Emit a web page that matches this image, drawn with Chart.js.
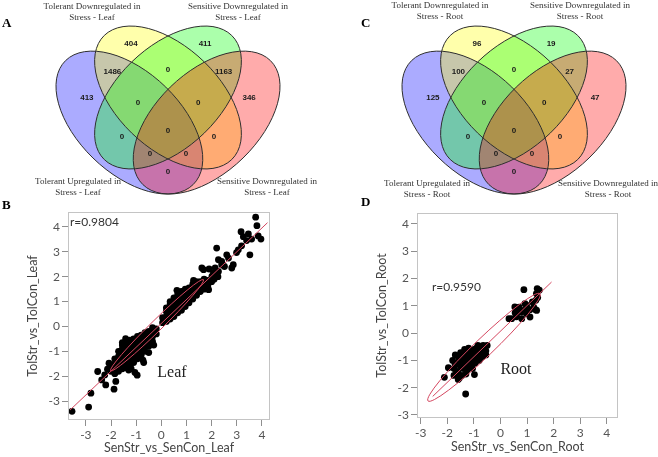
<!DOCTYPE html>
<html>
<head>
<meta charset="utf-8">
<script src="https://cdn.jsdelivr.net/npm/chart.js@4.4.1/dist/chart.umd.min.js"></script>
<style>
  body { margin: 0; width: 658px; height: 457px; background: #fff; position: relative; overflow: hidden; }
  canvas { position: absolute; }
  .set  { position: absolute; font: 9px/10.5px "Liberation Serif", "Times New Roman", serif; color: #333;
          text-align: center; white-space: nowrap; transform: translateX(-50%); }
  .panel { position: absolute; font: bold 13px/1 "Liberation Serif", "Times New Roman", serif; color: #000; }
  .r    { position: absolute; font: 12px/14px Lato, "Liberation Sans", sans-serif; color: #333; }
  .tis  { position: absolute; font: 16px/18px "Liberation Serif", "Times New Roman", serif; color: #222; transform: translateX(-50%); }
</style>
</head>
<body>
<canvas id="venn-leaf"    width="312" height="200" style="left:0;top:0"></canvas>
<canvas id="venn-root"    width="312" height="200" style="left:346px;top:0"></canvas>
<canvas id="scatter-leaf" width="290" height="257" style="left:0;top:200px"></canvas>
<canvas id="scatter-root" width="329" height="257" style="left:329px;top:200px"></canvas>

<div class="panel" style="left:2px;top:16px">A</div>
<div class="panel" style="left:2px;top:198px">B</div>
<div class="panel" style="left:361px;top:16px">C</div>
<div class="panel" style="left:361px;top:195px">D</div>

<div class="set" style="left:92px;top:1px">Tolerant Downregulated in<br>Stress - Leaf</div>
<div class="set" style="left:238px;top:1px">Sensitive Downregulated in<br>Stress - Leaf</div>
<div class="set" style="left:78px;top:176px">Tolerant Upregulated in<br>Stress - Leaf</div>
<div class="set" style="left:267px;top:176px">Sensitive Downregulated in<br>Stress - Leaf</div>

<div class="set" style="left:440px;top:0">Tolerant Downregulated in<br>Stress - Root</div>
<div class="set" style="left:580px;top:0">Sensitive Downregulated in<br>Stress - Root</div>
<div class="set" style="left:427px;top:178px">Tolerant Upregulated in<br>Stress - Root</div>
<div class="set" style="left:608px;top:178px">Sensitive Downregulated in<br>Stress - Root</div>

<div class="r" style="left:70px;top:215px">r=0.9804</div>
<div class="tis" style="left:172px;top:363px">Leaf</div>
<div class="r" style="left:432px;top:280px">r=0.9590</div>
<div class="tis" style="left:516px;top:360px">Root</div>

<script>
// ── VENN DATA ─────────────────────────────────────────────
// region order: T-down only, S-down only, T-down+T-up, T-down+S-down, S-down+S-down(R),
// T-up only, T-up+T-down+S-down, T-down+S-down+S-down(R), S-down(R) only, T-up+S-down,
// all four, T-down+S-down(R), T-up+S-down+S-down(R), T-up+T-down+S-down(R), T-up+S-down(R)
const leafCounts = [404, 411, 1486, 0, 1163, 413, 0, 0, 346, 0, 0, 0, 0, 0, 0];
const rootCounts = [96, 19, 100, 0, 27, 125, 0, 0, 47, 0, 0, 0, 0, 0, 0];

// label spots inside the unit square of the four-ellipse layout
const regionX = [0.356, 0.644, 0.284, 0.5, 0.716, 0.185, 0.383, 0.617, 0.815, 0.321, 0.5, 0.679, 0.43, 0.57, 0.5];
const regionY = [0.783, 0.783, 0.672, 0.68, 0.672, 0.568, 0.548, 0.548, 0.568, 0.412, 0.436, 0.412, 0.345, 0.345, 0.273];

// blue (T-up), yellow (T-down), green (S-down), pink (S-down)
const setCx    = [0.35, 0.5, 0.5, 0.65];
const setCy    = [0.47, 0.57, 0.57, 0.47];
const setAngle = [-45, -45, 45, 45];
const setA = 0.35, setB = 0.2;
const setColours = ['rgba(0,0,255,0.33)', 'rgba(255,255,0,0.33)', 'rgba(0,255,0,0.33)', 'rgba(255,0,0,0.33)'];

// ── SCATTER DATA ──────────────────────────────────────────
const axisTicks = [-3, -2, -1, 0, 1, 2, 3, 4];

// [SenStr_vs_SenCon_Leaf, TolStr_vs_TolCon_Leaf]
const leafPoints = [
  [-2.0,-1.8],[-2.0,-1.6],
  [-1.85,-1.9],[-1.85,-1.7],[-1.85,-1.5],[-1.85,-1.3],
  [-1.7,-1.8],[-1.7,-1.6],[-1.7,-1.4],[-1.7,-1.2],[-1.7,-1.0],
  [-1.55,-1.7],[-1.55,-1.5],[-1.55,-1.3],[-1.55,-1.1],[-1.55,-0.9],[-1.55,-0.75],
  [-1.4,-1.65],[-1.4,-1.45],[-1.4,-1.25],[-1.4,-1.05],[-1.4,-0.85],[-1.4,-0.65],
  [-1.25,-1.55],[-1.25,-1.35],[-1.25,-1.15],[-1.25,-0.95],[-1.25,-0.75],[-1.25,-0.55],
  [-1.1,-1.45],[-1.1,-1.25],[-1.1,-1.05],[-1.1,-0.85],[-1.1,-0.65],[-1.1,-0.5],
  [-0.95,-1.3],[-0.95,-1.1],[-0.95,-0.9],[-0.95,-0.7],[-0.95,-0.5],[-0.95,-0.4],
  [-0.8,-1.15],[-0.8,-0.95],[-0.8,-0.75],[-0.8,-0.55],[-0.8,-0.35],
  [-0.65,-1.0],[-0.65,-0.8],[-0.65,-0.6],[-0.65,-0.4],[-0.65,-0.25],
  [-0.5,-0.8],[-0.5,-0.6],[-0.5,-0.4],[-0.5,-0.2],
  [-0.35,-0.6],[-0.35,-0.4],[-0.35,-0.2],[-0.35,-0.05],
  [-0.2,-0.3],[-0.2,-0.1],
  [-2.53,-1.81],[-2.37,-2.15],[-2.21,-2.35],[-1.88,-2.52],[-1.81,-2.21],[-2.08,-1.48],
  [-1.48,-1.65],[-1.05,-1.85],[-0.96,-1.96],[-0.73,-1.35],[-1.42,-0.49],[-1.55,-0.65],
  [-2.80,-2.68],[-2.89,-3.24],[-3.55,-3.41],[-2.14,-1.72],[-0.7,-1.45],[-2.25,-1.95],
  [-1.3,-1.75],[-1.2,-1.7],[-0.5,-1.05],[-0.3,-0.75],
  [0.05,0.15],[0.05,0.35],
  [0.2,0.2],[0.2,0.4],[0.2,0.6],[0.2,0.75],
  [0.35,0.3],[0.35,0.5],[0.35,0.7],[0.35,0.9],[0.35,1.0],
  [0.5,0.4],[0.5,0.6],[0.5,0.8],[0.5,1.0],[0.5,1.15],
  [0.65,0.55],[0.65,0.75],[0.65,0.95],[0.65,1.15],[0.65,1.3],
  [0.8,0.65],[0.8,0.85],[0.8,1.05],[0.8,1.25],[0.8,1.4],
  [0.95,0.8],[0.95,1.0],[0.95,1.2],[0.95,1.4],[0.95,1.5],
  [1.1,0.95],[1.1,1.15],[1.1,1.35],[1.1,1.55],
  [1.25,1.1],[1.25,1.3],[1.25,1.5],[1.25,1.7],
  [1.4,1.25],[1.4,1.45],[1.4,1.65],[1.4,1.8],
  [1.55,1.4],[1.55,1.6],[1.55,1.8],
  [1.7,1.5],[1.7,1.7],[1.7,1.9],
  [1.85,1.65],[1.85,1.85],[2.0,1.8],
  [0.62,1.45],[0.82,1.41],[1.28,1.85],[1.61,2.35],[1.68,2.28],[1.9,2.31],[2.01,2.01],
  [1.88,1.48],[1.74,1.55],[2.1,1.9],[2.25,2.0],[2.07,2.15],[2.14,2.35],[2.27,2.21],
  [2.27,2.68],[2.40,2.61],[2.40,2.48],[2.51,2.41],[2.60,2.88],[2.67,2.75],[2.80,2.35],
  [2.86,2.48],[2.20,3.15],[2.99,2.97],[3.06,3.08],[3.19,3.24],[3.17,3.81],[3.26,3.61],
  [3.39,3.45],[3.46,3.72],[3.52,2.88],[3.59,3.51],[3.75,4.39],[3.80,4.05],[3.85,3.64],
  [3.96,3.51]
];
const leafFitX = [-3.63, 4.22];
const leafFitY = [-3.36, 4.17];
// density ellipse: centre x, centre y, semi-major, semi-minor, angle (deg)
const leafEllipse = [-0.17, 0.05, 2.6, 0.22, 44.8];

// [SenStr_vs_SenCon_Root, TolStr_vs_TolCon_Root]
const rootPoints = [
  [-1.75,-1.3],[-1.65,-1.1],[-1.6,-1.4],[-1.55,-1.0],[-1.5,-1.2],[-1.45,-0.85],[-1.4,-1.05],
  [-1.4,-1.3],[-1.35,-0.95],[-1.3,-1.15],[-1.3,-0.75],[-1.25,-1.35],[-1.2,-0.9],[-1.2,-1.05],
  [-1.15,-0.7],[-1.1,-0.85],[-1.1,-1.2],[-1.05,-1.0],[-1.0,-0.6],[-1.0,-0.8],[-0.95,-1.1],
  [-0.95,-0.9],[-0.9,-0.7],[-0.9,-0.55],[-0.85,-0.85],[-0.8,-1.0],[-0.8,-0.65],[-0.75,-0.5],
  [-0.7,-0.75],[-0.7,-0.6],[-0.65,-0.85],[-0.6,-0.55],[-0.55,-0.65],[-0.5,-0.45],[-0.85,-0.45],
  [-1.3,-1.5],[-1.45,-1.55],[-1.55,-1.65],[-1.6,-0.85],[-1.5,-0.72],[-1.75,-1.55],[-1.05,-1.3],
  [-1.52,-1.19],[-1.71,-1.13],[-1.65,-1.46],[-1.2,-1.25],[-0.75,-0.9],[-0.6,-0.75],
  [-1.8,-1.0],[-1.7,-0.8],[-1.35,-0.6],[-1.2,-0.55],[-0.65,-0.45],[-0.55,-0.8],
  [-2.11,-1.62],[-1.96,-1.27],[-1.31,-2.23],[-1.59,-1.70],[-0.98,-1.52],
  [0.88,1.59],[1.38,1.63],[1.46,1.57],[0.54,0.96],[0.42,0.53],[0.61,0.71],[0.86,0.83],
  [0.98,1.02],[1.11,0.59],[1.36,0.83],[1.33,1.2],[0.67,0.9],[0.80,0.53],[1.2,1.14],
  [1.32,0.86],[1.11,0.86],[0.32,0.53],[0.92,1.08],[0.79,0.77],[0.98,0.71],[0.7,0.95],
  [1.0,0.9],[0.55,0.75],[1.25,0.95],[0.6,0.6],[1.4,1.3],[1.35,1.45]
];
const rootFitX = [-2.55, 1.92];
const rootFitY = [-2.32, 1.87];
const rootEllipse = [-0.62, -0.52, 2.88, 0.34, 43];

// ── PLUGINS ───────────────────────────────────────────────
// traces an ellipse given in data units through the chart's own scales
function ellipsePath(chart, cx, cy, a, b, deg) {
  const { ctx, scales: { x, y } } = chart;
  const sx = x.getPixelForValue(1) - x.getPixelForValue(0);
  const sy = y.getPixelForValue(0) - y.getPixelForValue(1);
  ctx.beginPath();
  ctx.save();
  ctx.translate(x.getPixelForValue(cx), y.getPixelForValue(cy));
  ctx.scale(sx, -sy);
  ctx.rotate(deg * Math.PI / 180);
  ctx.ellipse(0, 0, a, b, 0, 0, 2 * Math.PI);
  ctx.restore();
}

const vennPlugin = {
  id: 'venn',
  beforeDatasetsDraw(chart) {
    const ctx = chart.ctx;
    setColours.forEach((c, i) => {
      ellipsePath(chart, setCx[i], setCy[i], setA, setB, setAngle[i]);
      ctx.fillStyle = c;
      ctx.fill();
    });
    ctx.strokeStyle = '#2e2e2e';
    ctx.lineWidth = 1;
    setColours.forEach((c, i) => {
      ellipsePath(chart, setCx[i], setCy[i], setA, setB, setAngle[i]);
      ctx.stroke();
    });
  },
  afterDatasetsDraw(chart, args, opts) {
    const ctx = chart.ctx;
    ctx.save();
    ctx.font = 'bold 8px "Liberation Sans", Arial, sans-serif';
    ctx.fillStyle = '#1a1a1a';
    ctx.textAlign = 'center';
    ctx.textBaseline = 'middle';
    chart.getDatasetMeta(0).data.forEach((pt, i) => {
      ctx.fillText(String(opts.counts[i]), pt.x, pt.y);
    });
    ctx.restore();
  }
};

const framePlugin = {
  id: 'frame',
  afterDatasetsDraw(chart, args, opts) {
    const { ctx, chartArea: a } = chart;
    ctx.save();
    if (opts.ellipse) {
      const [cx, cy, ra, rb, deg] = opts.ellipse;
      ellipsePath(chart, cx, cy, ra, rb, deg);
      ctx.strokeStyle = '#d4465f';
      ctx.lineWidth = 1;
      ctx.stroke();
    }
    ctx.strokeStyle = '#c4c4c4';
    ctx.lineWidth = 1;
    ctx.strokeRect(a.left + 0.5, a.top + 0.5, a.right - a.left - 1, a.bottom - a.top - 1);
    ctx.restore();
  }
};

// ── CHART BUILDERS ────────────────────────────────────────
function vennChart(id, counts) {
  new Chart(document.getElementById(id), {
    type: 'scatter',
    data: {
      datasets: [{ data: regionX.map((x, i) => ({ x, y: regionY[i] })), pointRadius: 0 }],
    },
    options: {
      responsive: false,
      animation: false,
      devicePixelRatio: 1,
      layout: { padding: 0 },
      events: [],
      plugins: { legend: { display: false }, tooltip: { enabled: false }, venn: { counts } },
      scales: {
        x: { type: 'linear', display: false, min: -0.1524, max: 1.0592 },
        y: { type: 'linear', display: false, min: 0.1611, max: 0.9589 },
      },
    },
    plugins: [vennPlugin],
  });
}

function scatterChart(id, s) {
  const tickFont = { family: 'Lato', size: 12 };
  const axis = (min, max, fit, title, titlePad) => ({
    type: 'linear',
    min, max,
    afterBuildTicks: sc => { sc.ticks = axisTicks.map(v => ({ value: v })); },
    afterFit: fit,
    border: { display: false },
    grid: { drawOnChartArea: false, tickLength: 6, color: '#8f8f8f' },
    ticks: { font: tickFont, color: '#555', padding: 2, autoSkip: false, maxRotation: 0 },
    title: { display: true, text: title, font: { family: 'Lato', size: 12.5 }, color: '#444', padding: titlePad },
  });

  new Chart(document.getElementById(id), {
    type: 'scatter',
    data: {
      datasets: [
        {
          data: s.fitX.map((x, i) => ({ x, y: s.fitY[i] })),
          showLine: true, pointRadius: 0, borderColor: '#d4465f', borderWidth: 1,
        },
        {
          data: s.points.map(p => ({ x: p[0], y: p[1] })),
          pointRadius: 3.4, pointBackgroundColor: '#000', pointBorderWidth: 0,
        },
      ],
    },
    options: {
      responsive: false,
      animation: false,
      devicePixelRatio: 1,
      events: [],
      layout: { padding: { top: s.padTop, right: s.padRight, left: 0, bottom: 0 } },
      plugins: { legend: { display: false }, tooltip: { enabled: false }, frame: { ellipse: s.ellipse } },
      scales: {
        x: axis(s.xMin, s.xMax, sc => { sc.height = s.xHeight; }, s.xTitle, { top: 0, bottom: s.xTitlePad }),
        y: axis(s.yMin, s.yMax, sc => { sc.width = s.yWidth; }, s.yTitle, { top: s.yTitlePad, bottom: 0 }),
      },
    },
    plugins: [framePlugin],
  });
}

vennChart('venn-leaf', leafCounts);
vennChart('venn-root', rootCounts);

scatterChart('scatter-leaf', {
  points: leafPoints, fitX: leafFitX, fitY: leafFitY, ellipse: leafEllipse,
  xMin: -3.71, xMax: 4.32, yMin: -3.76, yMax: 4.6,
  padTop: 12, padRight: 20, xHeight: 37, yWidth: 68, xTitlePad: 2, yTitlePad: 25.5,
  xTitle: 'SenStr_vs_SenCon_Leaf', yTitle: 'TolStr_vs_TolCon_Leaf',
});

scatterChart('scatter-root', {
  points: rootPoints, fitX: rootFitX, fitY: rootFitY, ellipse: rootEllipse,
  xMin: -3.14, xMax: 4.42, yMin: -3.11, yMax: 4.4,
  padTop: 13, padRight: 40, xHeight: 39, yWidth: 88, xTitlePad: 2.5, yTitlePad: 45.5,
  xTitle: 'SenStr_vs_SenCon_Root', yTitle: 'TolStr_vs_TolCon_Root',
});
</script>
</body>
</html>
